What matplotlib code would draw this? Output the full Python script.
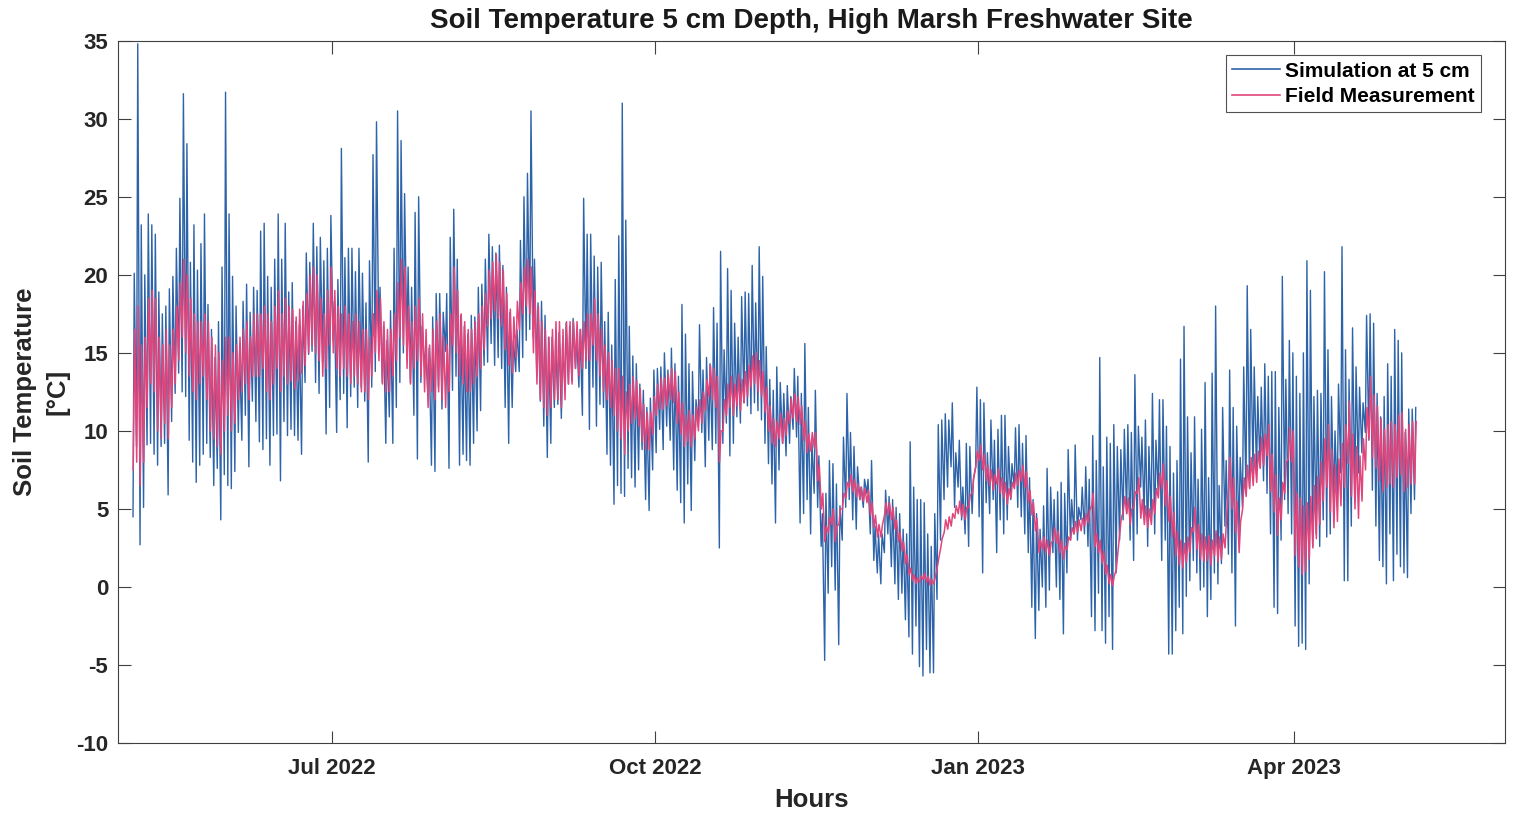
import numpy as np
import matplotlib
matplotlib.use("Agg")
import matplotlib.pyplot as plt
import matplotlib.dates as mdates
from datetime import datetime

# ---- data (day index 0 = 2022-05-01) ----
first_day = 4  # 2022-05-05

# simulated daily maxima (degC), one value per day from 2022-05-05
sim_max = [
    20.1, 34.8, 23.2, 20.0, 23.9, 23.2, 22.6, 18.9, 17.5, 18.0,
    19.1, 19.9, 21.7, 24.9, 31.6, 28.4, 20.8, 23.2, 20.3, 22.0,
    23.9, 18.1, 16.5, 14.7, 17.0, 20.5, 31.7, 23.9, 19.9, 18.0,
    15.1, 18.3, 19.4, 17.6, 19.2, 19.0, 22.8, 23.3, 19.9, 19.2,
    21.0, 23.9, 21.0, 23.3, 18.9, 19.5, 17.0, 16.8, 18.0, 21.4,
    20.8, 23.3, 21.8, 22.4, 20.9, 21.7, 23.8, 18.3, 19.7, 28.1,
    21.1, 21.7, 21.7, 20.2, 21.7, 20.1, 18.2, 20.9, 27.7, 29.8,
    19.2, 16.7, 15.8, 17.7, 21.7, 30.5, 28.6, 25.2, 20.5, 19.2,
    24.0, 25.0, 16.7, 15.0, 15.3, 17.3, 18.8, 18.8, 17.6, 18.8,
    22.4, 24.2, 21.0, 17.4, 16.7, 16.2, 17.4, 17.3, 19.2, 19.4,
    21.0, 22.6, 21.8, 21.4, 21.9, 20.6, 19.2, 17.6, 15.8, 16.5,
    22.2, 25.0, 26.5, 30.5, 21.0, 18.2, 18.3, 17.4, 16.0, 16.0,
    15.8, 16.3, 15.6, 16.9, 16.7, 17.2, 16.0, 16.5, 24.9, 22.6,
    22.6, 21.2, 20.5, 20.8, 17.0, 17.6, 15.5, 19.7, 22.5, 31.0,
    23.5, 16.7, 14.8, 14.3, 13.0, 12.6, 11.5, 12.1, 13.9, 14.0,
    14.1, 15.0, 13.9, 15.3, 14.3, 13.5, 18.1, 16.2, 14.3, 13.8,
    12.0, 16.8, 13.9, 14.7, 14.3, 17.9, 16.9, 21.5, 15.2, 20.4,
    19.0, 16.9, 16.0, 18.6, 18.9, 18.8, 20.6, 18.2, 21.8, 19.9,
    15.4, 13.3, 12.6, 14.1, 13.1, 12.4, 12.9, 12.2, 14.0, 13.5,
    12.4, 15.6, 11.5, 9.4, 12.6, 8.4, 4.7, 6.0, 8.1, 7.9,
    6.6, 5.2, 9.6, 12.4, 9.9, 9.0, 7.7, 6.4, 6.9, 6.9,
    8.1, 3.9, 3.4, 3.4, 6.2, 5.8, 5.6, 5.1, 4.7, 3.7,
    3.4, 9.3, 6.4, 5.6, 5.6, 5.4, 3.4, 2.6, 4.7, 10.4,
    10.7, 11.1, 10.7, 11.8, 8.6, 9.4, 6.4, 9.2, 9.0, 6.9,
    12.8, 12.0, 11.8, 8.6, 10.7, 9.4, 10.1, 11.0, 11.0, 9.0,
    7.9, 10.2, 10.4, 9.2, 9.7, 7.0, 5.6, 4.7, 3.7, 5.2,
    7.6, 6.4, 5.6, 6.1, 6.7, 6.0, 8.8, 5.6, 9.1, 5.1,
    6.4, 7.7, 6.9, 9.7, 8.1, 14.7, 7.7, 9.6, 9.2, 10.4,
    9.0, 8.8, 10.1, 10.4, 9.9, 13.6, 10.3, 9.6, 10.7, 9.0,
    12.4, 9.4, 12.0, 12.0, 10.3, 9.0, 7.3, 8.1, 14.6, 16.7,
    10.9, 8.6, 10.9, 6.9, 10.1, 13.1, 7.0, 13.7, 18.0, 6.5,
    11.5, 8.1, 13.9, 11.5, 10.3, 8.3, 14.1, 19.3, 16.5, 14.1,
    12.2, 12.8, 14.3, 13.5, 13.8, 13.8, 11.5, 19.9, 13.3, 15.8,
    15.0, 13.5, 12.4, 15.0, 20.9, 19.0, 12.2, 12.6, 12.4, 20.2,
    15.2, 12.2, 10.0, 13.0, 21.8, 15.2, 13.3, 16.6, 14.1, 12.8,
    11.8, 17.4, 17.5, 16.9, 12.4, 10.9, 12.2, 14.3, 13.5, 16.5,
    15.8, 15.0, 9.9, 11.4, 11.4, 11.5,
]

# simulated daily minima (degC)
sim_min = [
    4.5, 9.0, 2.7, 5.1, 9.1, 9.2, 8.5, 7.8, 9.0, 9.2,
    5.9, 10.6, 12.4, 13.7, 12.5, 12.2, 9.4, 8.0, 6.7, 7.8,
    8.5, 9.2, 8.3, 6.5, 7.6, 4.3, 7.2, 6.5, 6.3, 7.4,
    9.9, 9.4, 11.0, 7.7, 11.9, 10.6, 9.3, 8.8, 9.5, 7.8,
    9.7, 9.8, 6.8, 10.6, 9.7, 10.1, 9.7, 9.4, 8.5, 13.1,
    14.9, 15.1, 13.1, 12.4, 14.4, 9.8, 11.5, 15.8, 9.9, 12.0,
    12.4, 10.2, 12.2, 12.8, 11.5, 12.8, 11.9, 8.0, 12.8, 13.8,
    15.6, 13.1, 9.2, 10.9, 9.2, 11.5, 13.1, 15.0, 15.3, 13.1,
    11.0, 8.2, 13.1, 14.4, 12.3, 7.8, 7.4, 12.8, 11.4, 15.1,
    7.6, 12.6, 13.5, 7.8, 8.5, 8.1, 7.8, 9.2, 10.0, 11.3,
    14.2, 14.4, 15.6, 14.2, 14.7, 14.0, 11.5, 9.2, 11.5, 13.8,
    13.8, 14.7, 15.8, 16.5, 16.0, 13.5, 11.9, 10.3, 8.3, 9.2,
    11.5, 11.7, 10.8, 12.8, 13.0, 13.2, 14.0, 12.8, 11.0, 14.0,
    10.1, 12.8, 10.3, 11.7, 11.5, 8.5, 7.8, 5.3, 6.5, 6.0,
    5.8, 7.6, 7.0, 6.4, 7.5, 8.8, 5.6, 4.9, 7.5, 8.6,
    10.1, 8.8, 10.3, 9.4, 7.5, 6.2, 5.4, 4.1, 6.6, 4.9,
    8.1, 10.3, 9.9, 7.7, 9.4, 8.8, 9.2, 2.5, 9.2, 10.5,
    8.4, 9.2, 10.9, 10.5, 11.8, 11.6, 11.1, 11.8, 11.3, 10.7,
    9.2, 7.9, 6.6, 4.1, 7.5, 9.2, 8.4, 9.2, 10.1, 9.6,
    4.1, 4.7, 5.6, 3.4, 6.0, 5.1, 2.6, -4.7, -0.4, 1.3,
    -0.2, -3.7, 3.0, 5.1, 5.6, 4.3, 3.7, 5.6, 5.1, 6.0,
    3.4, 1.7, 0.9, 0.2, 2.2, 3.4, 1.3, 0.2, -0.8, -0.4,
    -2.1, -3.2, -4.3, -2.5, -5.1, -5.7, -4.0, -5.5, -5.5, -0.8,
    3.0, 5.6, 6.4, 7.7, 5.1, 6.4, 4.3, 3.4, 2.6, 4.7,
    7.7, 4.5, 0.9, 5.4, 4.7, 5.6, 2.2, 4.3, 3.4, 4.3,
    5.6, 6.4, 5.1, 4.5, 3.4, 2.2, -1.3, -3.3, -1.5, 0.0,
    -1.3, -0.2, 2.2, 0.0, -0.8, -3.0, 0.9, 3.0, 3.4, 3.0,
    4.3, 3.4, 2.6, -1.9, -2.8, -0.4, -2.8, -3.6, -1.9, -4.0,
    0.9, 3.0, 4.3, 4.7, 3.0, 1.7, 3.4, 6.4, 4.5, 2.6,
    4.3, 3.4, 6.0, 1.7, 3.0, -4.3, -4.3, -2.8, -1.3, -3.0,
    -0.6, 0.4, 1.7, 0.9, -0.2, 0.0, -1.9, -0.8, 0.9, 0.2,
    1.5, 3.9, 2.1, 0.9, -2.5, 3.2, 5.1, 6.0, 6.4, 7.3,
    7.3, 7.7, 6.8, 6.0, 3.4, -1.3, -1.7, 3.0, 5.6, 4.7,
    3.4, -2.5, -3.8, -3.6, -4.0, 0.2, 2.6, 3.4, 2.6, 4.3,
    3.2, 3.4, 5.1, 5.6, 7.3, 0.4, 0.4, 3.9, 5.6, 7.3,
    8.6, 9.9, 9.4, 6.2, 3.9, 1.7, 1.3, 0.2, 3.4, 0.4,
    2.1, 1.3, 0.9, 0.6, 4.7, 5.6,
]

# field measurement: daily mean and half daily range (degC)
field_mean = [
    12.0, 13.0, 11.0, 12.0, 15.0, 16.0, 15.5, 13.0, 12.5, 13.5,
    12.5, 14.0, 15.5, 17.0, 18.5, 17.5, 16.0, 15.0, 14.5, 15.0,
    15.5, 14.5, 13.0, 12.5, 12.0, 11.5, 13.0, 13.5, 12.5, 13.0,
    14.0, 14.5, 15.0, 14.0, 15.5, 15.5, 15.5, 16.0, 15.0, 14.5,
    15.5, 16.5, 15.0, 16.0, 15.5, 15.5, 15.0, 15.5, 16.0, 16.5,
    17.5, 18.0, 17.5, 16.5, 15.5, 16.5, 18.0, 17.0, 16.0, 15.5,
    16.0, 15.5, 15.0, 15.5, 15.0, 14.5, 14.5, 14.0, 15.5, 17.0,
    16.5, 15.0, 14.5, 14.5, 15.5, 17.0, 18.5, 18.0, 16.0, 15.0,
    16.0, 16.5, 15.5, 14.5, 13.5, 14.5, 14.5, 15.0, 14.0, 13.5,
    15.0, 18.0, 17.0, 15.5, 15.0, 14.5, 14.5, 15.0, 15.5, 16.0,
    17.0, 18.5, 19.0, 19.5, 19.0, 18.5, 17.0, 16.0, 15.5, 16.5,
    18.0, 19.0, 19.5, 19.0, 17.0, 15.5, 14.5, 14.0, 13.5, 14.0,
    14.5, 14.5, 14.0, 14.5, 15.0, 15.0, 15.5, 15.0, 15.5, 16.0,
    16.0, 17.0, 16.0, 15.0, 14.0, 13.5, 13.0, 12.5, 12.0, 11.5,
    10.5, 11.5, 12.0, 12.0, 11.5, 10.5, 10.0, 10.0, 11.0, 12.0,
    12.4, 12.4, 12.6, 13.0, 12.8, 11.5, 10.8, 10.0, 10.3, 10.0,
    10.5, 11.0, 11.5, 12.3, 13.2, 13.0, 12.5, 9.0, 11.0, 12.0,
    12.5, 12.0, 12.6, 12.3, 12.8, 13.2, 13.8, 14.0, 13.5, 13.0,
    12.0, 10.8, 10.0, 9.8, 10.3, 10.0, 10.5, 11.3, 11.6, 11.4,
    11.0, 10.0, 9.2, 9.3, 9.4, 7.3, 5.5, 3.4, 4.0, 4.5,
    3.4, 4.5, 5.5, 6.2, 6.8, 6.5, 6.2, 6.0, 5.9, 5.8,
    5.0, 4.2, 3.6, 3.6, 5.0, 5.0, 4.7, 4.0, 3.2, 2.6,
    1.8, 1.0, 0.6, 0.4, 0.5, 0.7, 0.5, 0.3, 0.4, 1.5,
    2.8, 3.9, 4.1, 4.3, 4.8, 5.1, 4.9, 4.7, 5.5, 6.5,
    8.2, 8.6, 8.0, 7.3, 7.0, 6.7, 7.1, 6.5, 6.2, 5.8,
    6.2, 6.8, 7.0, 7.3, 6.9, 5.8, 5.0, 4.0, 2.6, 2.8,
    2.6, 2.4, 3.4, 3.2, 2.6, 2.2, 2.8, 3.4, 3.8, 3.9,
    4.0, 4.3, 4.5, 5.6, 3.0, 2.6, 1.9, 1.1, 0.5, 0.4,
    1.6, 3.9, 5.3, 5.2, 4.5, 5.6, 6.5, 5.0, 4.6, 4.4,
    4.8, 5.5, 6.5, 7.1, 6.0, 5.0, 4.0, 2.8, 2.2, 2.0,
    2.4, 3.0, 4.3, 3.2, 2.6, 2.4, 2.5, 2.2, 2.8, 2.4,
    2.6, 3.5, 7.3, 6.0, 4.5, 3.2, 6.0, 6.8, 7.3, 7.5,
    7.7, 8.6, 8.8, 9.4, 7.3, 6.0, 4.5, 5.5, 7.0, 9.2,
    9.0, 4.0, 3.5, 3.0, 3.2, 3.8, 4.5, 5.1, 6.0, 7.5,
    8.4, 6.8, 5.8, 6.2, 7.2, 8.4, 9.9, 7.8, 7.0, 6.4,
    7.5, 9.5, 11.5, 10.3, 9.6, 8.8, 8.1, 8.4, 8.6, 8.4,
    9.0, 9.2, 8.1, 8.4, 8.6, 8.6,
]

field_halfrange = [
    4.5, 5.0, 4.5, 4.0, 3.5, 3.0, 3.0, 3.0, 3.0, 3.0,
    3.0, 2.5, 2.5, 2.5, 2.5, 2.5, 2.5, 2.5, 2.5, 2.0,
    2.0, 2.5, 3.0, 3.0, 3.0, 3.0, 3.0, 2.5, 2.5, 2.5,
    2.0, 2.0, 2.0, 2.0, 2.0, 2.0, 2.0, 2.0, 2.5, 2.5,
    2.5, 2.5, 2.5, 2.5, 2.5, 2.3, 2.3, 2.3, 2.3, 2.3,
    2.5, 2.5, 2.5, 2.0, 2.0, 2.5, 2.5, 2.0, 2.0, 2.0,
    2.0, 2.0, 2.0, 2.0, 2.0, 2.0, 2.0, 2.0, 2.0, 2.0,
    2.0, 2.0, 2.0, 2.0, 2.0, 2.5, 2.5, 2.5, 2.0, 2.0,
    2.0, 2.0, 2.0, 2.0, 2.0, 2.0, 2.5, 2.5, 2.0, 2.0,
    2.5, 2.5, 2.0, 2.0, 2.0, 2.0, 2.0, 2.0, 2.0, 2.0,
    1.8, 1.8, 1.8, 1.8, 1.8, 1.8, 1.8, 1.8, 1.8, 1.8,
    1.5, 1.5, 1.5, 1.5, 2.0, 2.5, 2.5, 2.5, 2.5, 2.5,
    2.5, 2.5, 2.5, 2.5, 2.0, 2.0, 1.5, 1.5, 1.5, 1.5,
    1.5, 1.5, 1.5, 1.5, 1.5, 1.5, 1.5, 1.5, 2.0, 2.0,
    2.0, 1.5, 1.5, 1.2, 1.2, 1.2, 1.2, 1.2, 1.2, 1.0,
    1.0, 1.0, 1.0, 1.0, 1.0, 1.0, 1.0, 1.0, 1.0, 1.0,
    1.0, 1.0, 1.0, 1.0, 1.0, 1.0, 1.0, 1.0, 1.0, 1.0,
    1.0, 1.0, 1.0, 1.0, 1.0, 1.0, 1.0, 1.0, 1.0, 0.8,
    0.8, 0.8, 0.8, 0.8, 0.8, 0.8, 0.8, 0.8, 0.8, 0.8,
    0.6, 0.6, 0.6, 0.6, 0.5, 0.5, 0.5, 0.5, 0.5, 0.5,
    0.5, 0.5, 0.5, 0.5, 0.4, 0.4, 0.4, 0.4, 0.4, 0.4,
    0.4, 0.4, 0.4, 0.4, 0.4, 0.4, 0.4, 0.3, 0.3, 0.3,
    0.3, 0.2, 0.2, 0.2, 0.2, 0.2, 0.2, 0.2, 0.2, 0.3,
    0.3, 0.4, 0.4, 0.4, 0.4, 0.4, 0.4, 0.4, 0.4, 0.5,
    0.5, 0.5, 0.5, 0.5, 0.5, 0.5, 0.5, 0.5, 0.5, 0.5,
    0.5, 0.5, 0.5, 0.5, 0.5, 0.4, 0.4, 0.4, 0.4, 0.4,
    0.4, 0.4, 0.4, 0.4, 0.4, 0.4, 0.4, 0.4, 0.4, 0.4,
    0.4, 0.4, 0.4, 0.4, 0.4, 0.4, 0.4, 0.3, 0.3, 0.3,
    0.5, 0.5, 0.5, 0.5, 0.5, 0.5, 0.5, 0.6, 0.6, 0.6,
    0.8, 0.8, 0.8, 0.8, 0.8, 0.8, 0.8, 0.8, 0.8, 0.8,
    0.8, 0.8, 0.8, 0.8, 0.8, 0.8, 0.8, 0.8, 0.8, 0.8,
    0.8, 1.0, 1.0, 1.0, 1.0, 1.0, 1.0, 1.0, 1.0, 1.0,
    1.0, 1.0, 1.0, 1.0, 1.2, 1.2, 1.2, 1.2, 1.0, 1.0,
    1.0, 2.0, 2.2, 2.2, 2.2, 2.0, 2.0, 2.0, 2.0, 2.0,
    2.0, 2.0, 2.0, 2.0, 2.0, 2.0, 2.0, 2.0, 2.0, 2.0,
    2.0, 2.0, 2.0, 2.0, 2.0, 2.0, 2.0, 2.0, 2.0, 2.0,
    2.0, 2.0, 2.0, 2.0, 2.0, 2.0,
]

tick_dates = [datetime(2022, 7, 1), datetime(2022, 10, 1),
              datetime(2023, 1, 1), datetime(2023, 4, 1)]
tick_labels = ["Jul 2022", "Oct 2022", "Jan 2023", "Apr 2023"]
y_ticks = [-10, -5, 0, 5, 10, 15, 20, 25, 30, 35]

# ---- build daily cycles (minimum early morning, maximum afternoon) ----
t0 = mdates.date2num(datetime(2022, 5, 1))

def daily_cycle(lo, hi, t_lo, t_hi):
    n = min(len(lo), len(hi))
    d = np.arange(first_day, first_day + n, dtype=float)
    t = np.empty(2 * n)
    v = np.empty(2 * n)
    t[0::2] = d + t_lo
    t[1::2] = d + t_hi
    v[0::2] = np.asarray(lo[:n])
    v[1::2] = np.asarray(hi[:n])
    return t0 + t, v

ts, vs = daily_cycle(sim_min, sim_max, 0.25, 0.60)
fm = np.asarray(field_mean)
fa = np.asarray(field_halfrange)[:len(fm)]
tf, vf = daily_cycle(fm - fa, fm + fa, 0.30, 0.72)

# ---- figure ----
plt.rcParams['font.family'] = ['Liberation Sans', 'DejaVu Sans']
plt.rcParams['axes.unicode_minus'] = False
fig = plt.figure(figsize=(15.14, 8.13), dpi=100)
ax = fig.add_axes([0.078, 0.086, 0.916, 0.864])

blue = '#2d63a8'
pink = '#e0457b'
ax.plot(ts, vs, color=blue, lw=1.0, label='Simulation at 5 cm')
ax.plot(tf, vf, color=pink, lw=1.1, label='Field Measurement')

ax.set_xlim(mdates.date2num(datetime(2022, 5, 1)), mdates.date2num(datetime(2023, 5, 31)))
ax.set_ylim(-10, 35)
ax.set_yticks(y_ticks)
ax.set_xticks([mdates.date2num(d) for d in tick_dates])
ax.set_xticklabels(tick_labels)

for lab in ax.get_xticklabels() + ax.get_yticklabels():
    lab.set_fontweight('bold')
    lab.set_fontsize(16)
    lab.set_color('#262626')

ax.tick_params(axis='both', direction='in', length=9, width=0.8, top=True, right=True,
               colors='#404040', labelcolor='#262626')
ax.tick_params(axis='x', pad=11)
ax.tick_params(axis='y', pad=7)
for s in ax.spines.values():
    s.set_color('#404040')
    s.set_linewidth(0.8)

ax.set_title('Soil Temperature 5 cm Depth, High Marsh Freshwater Site',
             fontsize=20, fontweight='bold', color='#1a1a1a', pad=9)
ax.set_xlabel('Hours', fontsize=18.5, fontweight='bold', color='#262626', labelpad=6)
ax.set_ylabel('Soil Temperature\n[°C]', fontsize=18.5, fontweight='bold',
              color='#262626', labelpad=5, linespacing=1.45)

leg = ax.legend(loc='upper right', bbox_to_anchor=(0.9827, 0.979),
                prop={'weight': 'bold', 'size': 15}, frameon=True, fancybox=False,
                handlelength=2.3, handletextpad=0.25, borderpad=0.3, labelspacing=0.3,
                borderaxespad=0.0)
leg.get_frame().set_edgecolor('#262626')
leg.get_frame().set_linewidth(0.8)
for line in leg.get_lines():
    line.set_linewidth(1.2)

fig.savefig('out.png', dpi=100)
